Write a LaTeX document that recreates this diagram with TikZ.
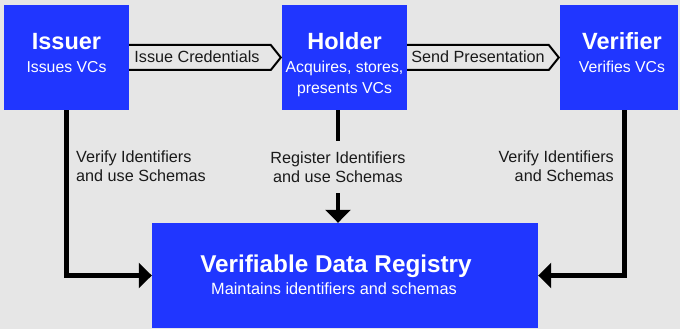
\documentclass[tikz,border=0pt]{standalone}
\usepackage{fontspec}
\setmainfont{Liberation Sans}
\usetikzlibrary{arrows.meta,calc}
\definecolor{bg}{HTML}{E6E6E6}
\definecolor{vcblue}{HTML}{2036FF}
\definecolor{ink}{HTML}{1A1A1A}
\begin{document}
\begin{tikzpicture}[x=1pt,y=-1pt,
  box/.style={fill=vcblue, draw=none, inner sep=0pt, minimum height=105pt},
  ttl/.style={text=white, font=\fontsize{23.5}{27}\selectfont\bfseries, anchor=base, inner sep=0pt},
  sub/.style={text=white, font=\fontsize{15.8}{20}\selectfont, anchor=base, inner sep=0pt},
  lbl/.style={text=ink, font=\fontsize{16.2}{18.5}\selectfont, inner sep=0pt},
  conn/.style={line width=4.5pt, draw=black},
  tip/.style={-{Triangle[length=13pt,width=25pt]}},
  band/.style={draw=black, line width=2pt, fill=bg}]
\fill[bg] (0,0) rectangle (680,329);
\useasboundingbox (0,0) rectangle (680,329);

% boxes
\node[box, minimum width=125pt] (issuer) at (66.5,57.5) {};
\node[box, minimum width=125pt] (holder) at (344.5,57.5) {};
\node[box, minimum width=118pt] (verifier) at (619,57.5) {};
\node[box, minimum width=386pt] (registry) at (345,275.5) {};

% box texts
\node[ttl] (issuerT) at (66.5,49) {Issuer};
\node[sub] (issuerS) at (66.5,72.5) {Issues VCs};
\node[ttl] (holderT) at (344.5,49) {Holder};
\node[sub] (holderS1) at (344.5,73) {Acquires, stores,};
\node[sub] (holderS2) at (344.5,93) {presents VCs};
\node[ttl] (verifierT) at (622,49) {Verifier};
\node[sub] (verifierS) at (622,73) {Verifies VCs};
\node[ttl, font=\fontsize{24.3}{28}\selectfont\bfseries] (registryT) at (336,272) {Verifiable Data Registry};
\node[sub, font=\fontsize{16.3}{20}\selectfont] (registryS) at (334,294) {Maintains identifiers and schemas};

% horizontal bands
\draw[band] ($(issuer.east)+(0,-12.5)$) -- ($(holder.west)+(-11,-12.5)$) -- ($(holder.west)+(-1,0)$)
  -- ($(holder.west)+(-11,12.5)$) -- ($(issuer.east)+(0,12.5)$);
\draw[band] ($(holder.east)+(0,-12.5)$) -- ($(verifier.west)+(-11,-12.5)$) -- ($(verifier.west)+(-1,0)$)
  -- ($(verifier.west)+(-11,12.5)$) -- ($(holder.east)+(0,12.5)$);
\node[lbl, anchor=base] (icl) at (197,63) {Issue Credentials};
\node[lbl, anchor=base] (spl) at (478,63) {Send Presentation};

% vertical connectors
\node[lbl, align=left, anchor=north west] (leftl) at (76,151) {Verify Identifiers\\and use Schemas};
\node[lbl, align=right, anchor=north east] (rightl) at (614,151) {Verify Identifiers\\and Schemas};
\node[lbl, align=center, minimum height=52pt] (midl) at (338,167) {Register Identifiers\\and use Schemas};

\draw[conn, tip] (issuer.south) |- (registry.west);
\draw[conn, tip] ($(verifier.south)+(5.5,0)$) |- (registry.east);
\draw[conn] (holder.south -| midl) -- (midl.north);
\draw[conn, tip] (midl.south) -- (midl |- registry.north);
\end{tikzpicture}
\end{document}
